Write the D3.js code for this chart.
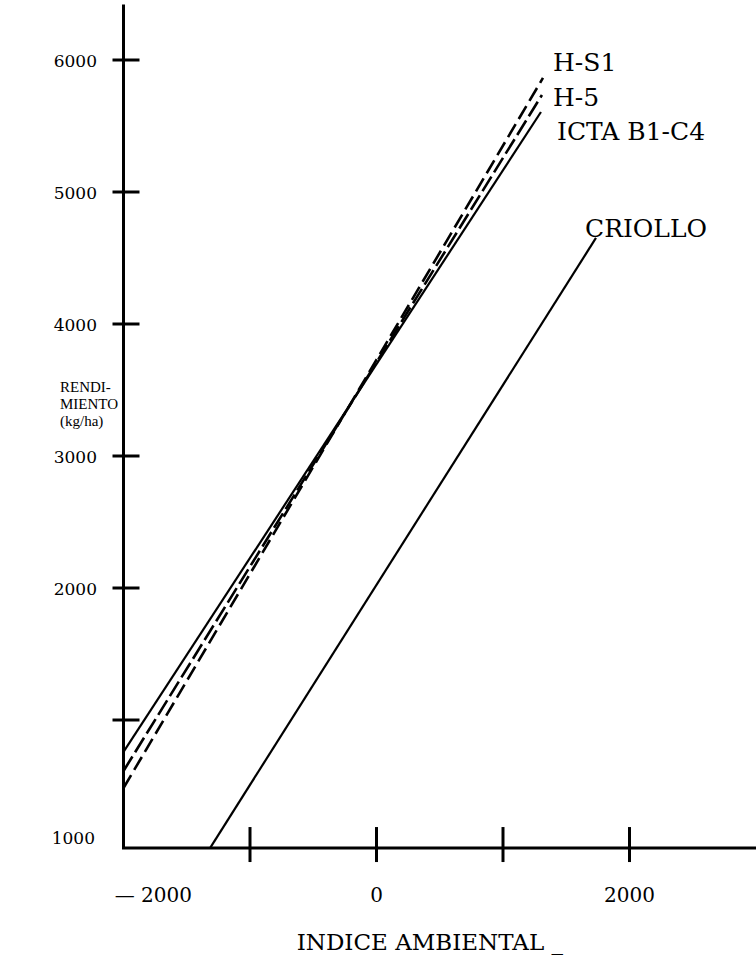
<!DOCTYPE html>
<html>
<head>
<meta charset="utf-8">
<script src="https://cdn.jsdelivr.net/npm/d3@7/dist/d3.min.js"></script>
<style>
  body { margin: 0; background: #fff; }
  svg { display: block; font-family: "DejaVu Serif", "Liberation Serif", serif; }
</style>
</head>
<body>
<svg width="756" height="967"></svg>
<script>
// ---- Datos
const variedades = ["H-S1", "H-5", "ICTA B1-C4", "CRIOLLO"];
const xInicio = [-2000, -2000, -2000, -1316];
const yInicio = [485, 614, 758, 30];
const xFin = [1316, 1308, 1300, 1735];
const yFin = [5864, 5735, 5606, 4652];

const yTicks = [1000, 2000, 3000, 4000, 5000, 6000];
const yTickLabels = ["", "2000", "3000", "4000", "5000", "6000"];
const yOrigenLabel = "1000";
const xTicks = [-1000, 0, 1000, 2000];
const xLabelValues = [-2000, 0, 2000];
const xLabels = ["— 2000", "0", "2000"];
const yTitulo = ["RENDI-", "MIENTO", "(kg/ha)"];
const xTitulo = "INDICE AMBIENTAL _";

const svg = d3.select('svg');

// ---- Escalas
const x = d3.scaleLinear().domain([-2000, 3000]).range([123.5, 756]);
const y = d3.scaleLinear().domain([0, 6000]).range([852, 60]);
const yMin = 30, yMax = 6420;

// ---- Ejes
const g = svg.append('g');
g.append('line')
  .attr('x1', x(-2000)).attr('x2', x(-2000))
  .attr('y1', y(yMax)).attr('y2', y(yMin))
  .attr('stroke', '#000').attr('stroke-width', 3);
g.append('line')
  .attr('x1', x(-2000) - 1.5).attr('x2', x(3000))
  .attr('y1', y(yMin)).attr('y2', y(yMin))
  .attr('stroke', '#000').attr('stroke-width', 3);

g.selectAll('.ytick').data(yTicks).join('line')
  .attr('class', 'ytick')
  .attr('x1', x(-2000) - 11).attr('x2', x(-2000) + 16)
  .attr('y1', d => y(d)).attr('y2', d => y(d))
  .attr('stroke', '#000').attr('stroke-width', 3);

g.selectAll('.ylab').data(yTicks).join('text')
  .attr('class', 'ylab')
  .attr('x', 97).attr('y', d => y(d) + 7)
  .attr('text-anchor', 'end')
  .attr('font-size', 17)
  .text((d, i) => yTickLabels[i]);

g.append('text')
  .attr('x', 95).attr('y', y(yMin) - 4)
  .attr('text-anchor', 'end')
  .attr('font-size', 17)
  .text(yOrigenLabel);

g.selectAll('.xtick').data(xTicks).join('line')
  .attr('class', 'xtick')
  .attr('x1', d => x(d)).attr('x2', d => x(d))
  .attr('y1', y(yMin) - 21).attr('y2', y(yMin) + 14)
  .attr('stroke', '#000').attr('stroke-width', 3);

g.selectAll('.xlab').data(xLabelValues).join('text')
  .attr('class', 'xlab')
  .attr('x', (d, i) => i === 0 ? 192 : x(d))
  .attr('y', 902)
  .attr('text-anchor', (d, i) => i === 0 ? 'end' : 'middle')
  .attr('font-size', 20)
  .text((d, i) => xLabels[i]);

// ---- Títulos
g.selectAll('.ytit').data(yTitulo).join('text')
  .attr('class', 'ytit')
  .attr('x', 60).attr('y', (d, i) => 392 + i * 17)
  .attr('font-family', '"Liberation Serif", serif')
  .attr('font-size', 15)
  .text(d => d);

g.append('text')
  .attr('x', 563).attr('y', 950)
  .attr('text-anchor', 'end')
  .attr('font-size', 23)
  .text(xTitulo);

// ---- Rectas de regresión
const estilos = { "H-S1": "15,6", "H-5": "17,5", "ICTA B1-C4": null, "CRIOLLO": null };
const linea = d3.line().x(d => x(d[0])).y(d => y(d[1]));
const rectas = variedades.map((v, i) => ({
  nombre: v,
  pts: [[xInicio[i], yInicio[i]], [xFin[i], yFin[i]]]
}));

g.selectAll('.recta').data(rectas).join('path')
  .attr('class', 'recta')
  .attr('d', d => linea(d.pts))
  .attr('fill', 'none')
  .attr('stroke', '#000')
  .attr('stroke-width', d => estilos[d.nombre] ? 2.6 : 2.2)
  .attr('stroke-dasharray', d => estilos[d.nombre]);

// ---- Etiquetas de las rectas
const etiquetaPos = { "H-S1": [553, 71], "H-5": [553, 106], "ICTA B1-C4": [557, 140], "CRIOLLO": [585, 237] };
g.selectAll('.etq').data(variedades).join('text')
  .attr('class', 'etq')
  .attr('x', d => etiquetaPos[d][0])
  .attr('y', d => etiquetaPos[d][1])
  .attr('font-size', 25)
  .text(d => d);
</script>
</body>
</html>
